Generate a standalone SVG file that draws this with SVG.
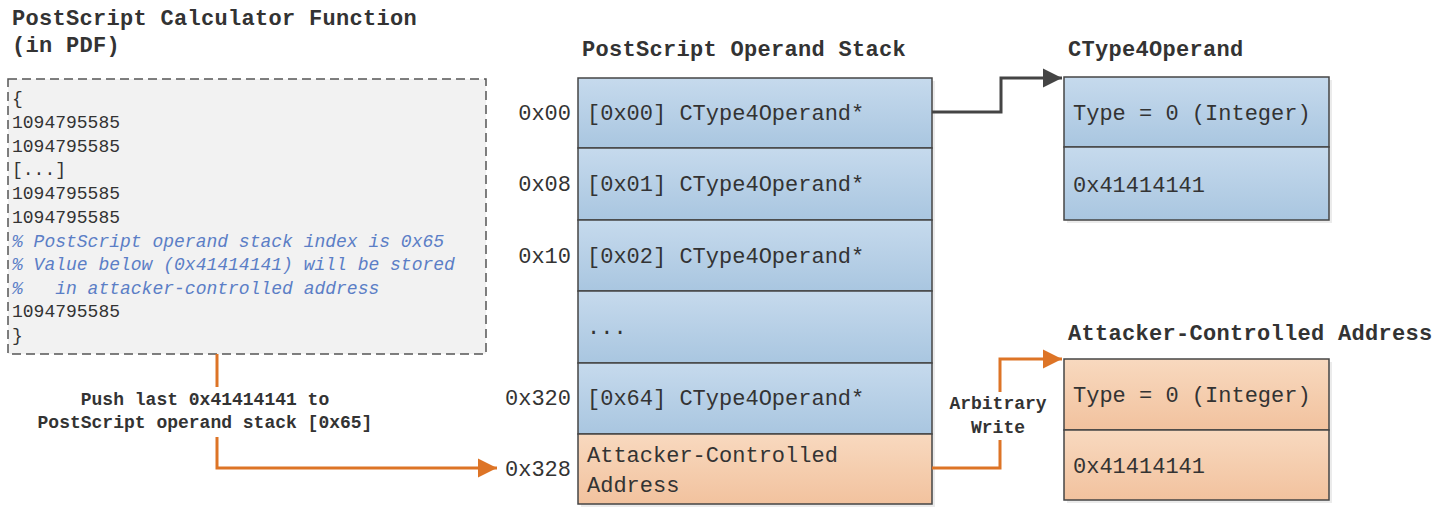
<svg xmlns="http://www.w3.org/2000/svg" width="1442" height="517" viewBox="0 0 1442 517">
<style>
.t{font-family:"Liberation Mono","DejaVu Sans Mono",monospace;fill:#333}
.title{font-size:22px;font-weight:bold;letter-spacing:0.3px}
.cell{font-size:22px}
.code{font-size:18px}
.cm{font-size:18px;font-style:italic;fill:#5b7ec6}
.lbl{font-size:18px;font-weight:bold}
.addr{font-size:22px;text-anchor:end}
.box{stroke:#454545;stroke-width:1.5}
.blue{fill:url(#gb)}
.orange{fill:url(#go)}
.sh{fill:#000;opacity:0.08}
</style>
<defs>
<linearGradient id="gb" x1="0" y1="0" x2="0" y2="1"><stop offset="0" stop-color="#c6daed"/><stop offset="1" stop-color="#a9c6e0"/></linearGradient>
<linearGradient id="go" x1="0" y1="0" x2="0" y2="1"><stop offset="0" stop-color="#f8d9bf"/><stop offset="1" stop-color="#f2c29e"/></linearGradient>
<marker id="ad" viewBox="0 0 10 10" refX="10" refY="5" markerWidth="6.5" markerHeight="6.5" markerUnits="strokeWidth" orient="auto"><path d="M0,0 L10,5 L0,10 z" fill="#444"/></marker>
<marker id="ao" viewBox="0 0 10 10" refX="10" refY="5" markerWidth="6.5" markerHeight="6.5" markerUnits="strokeWidth" orient="auto"><path d="M0,0 L10,5 L0,10 z" fill="#dd7426"/></marker>
</defs>
<rect width="1442" height="517" fill="#fff"/>

<g id="calc-function">
<text class="t title" x="12" y="25">PostScript Calculator Function</text>
<text class="t title" x="12" y="52">(in PDF)</text>
<rect x="8" y="79" width="478" height="275" fill="#f2f2f2" stroke="#555" stroke-width="1.5" stroke-dasharray="9,5"/>
<text class="t code" x="12" y="104">{</text>
<text class="t code" x="12" y="128">1094795585</text>
<text class="t code" x="12" y="152">1094795585</text>
<text class="t code" x="12" y="175">[...]</text>
<text class="t code" x="12" y="199">1094795585</text>
<text class="t code" x="12" y="223">1094795585</text>
<text class="t cm" x="12" y="247">% PostScript operand stack index is 0x65</text>
<text class="t cm" x="12" y="270">% Value below (0x41414141) will be stored</text>
<text class="t cm" x="12" y="294" xml:space="preserve">%   in attacker-controlled address</text>
<text class="t code" x="12" y="317">1094795585</text>
<text class="t code" x="12" y="341">}</text>
</g>

<g id="operand-stack">
<text class="t title" x="582" y="56">PostScript Operand Stack</text>
<rect class="sh" x="581" y="81" width="354" height="426"/>
<rect class="box blue" x="578" y="78" width="354" height="70"/>
<rect class="box blue" x="578" y="148" width="354" height="72"/>
<rect class="box blue" x="578" y="220" width="354" height="71"/>
<rect class="box blue" x="578" y="291" width="354" height="72"/>
<rect class="box blue" x="578" y="363" width="354" height="71"/>
<rect class="box orange" x="578" y="434" width="354" height="70"/>
<text class="t cell" x="587" y="120">[0x00] CType4Operand*</text>
<text class="t cell" x="587" y="191">[0x01] CType4Operand*</text>
<text class="t cell" x="587" y="263">[0x02] CType4Operand*</text>
<text class="t cell" x="587" y="334">...</text>
<text class="t cell" x="587" y="405">[0x64] CType4Operand*</text>
<text class="t cell" x="587" y="462">Attacker-Controlled</text>
<text class="t cell" x="587" y="492">Address</text>
<text class="t addr" x="571" y="120">0x00</text>
<text class="t addr" x="571" y="191">0x08</text>
<text class="t addr" x="571" y="263">0x10</text>
<text class="t addr" x="571" y="405">0x320</text>
<text class="t addr" x="571" y="476">0x328</text>
</g>

<g id="ctype4operand">
<text class="t title" x="1068" y="56">CType4Operand</text>
<rect class="sh" x="1067" y="80" width="265" height="143"/>
<rect class="box blue" x="1064" y="77" width="265" height="70"/>
<rect class="box blue" x="1064" y="147" width="265" height="73"/>
<text class="t cell" x="1073" y="120">Type = 0 (Integer)</text>
<text class="t cell" x="1073" y="192">0x41414141</text>
</g>

<g id="attacker-address">
<text class="t title" x="1068" y="340">Attacker-Controlled Address</text>
<rect class="sh" x="1067" y="362" width="265" height="141"/>
<rect class="box orange" x="1064" y="359" width="265" height="71"/>
<rect class="box orange" x="1064" y="430" width="265" height="70"/>
<text class="t cell" x="1073" y="402">Type = 0 (Integer)</text>
<text class="t cell" x="1073" y="473">0x41414141</text>
</g>

<g id="connectors" fill="none">
<path d="M932,112 H1001 V78 H1062" stroke="#444" stroke-width="3" marker-end="url(#ad)"/>
<path d="M217,354 V387" stroke="#dd7426" stroke-width="3"/>
<path d="M217,437 V468 H497" stroke="#dd7426" stroke-width="3" marker-end="url(#ao)"/>
<path d="M932,468 H1000 V440" stroke="#dd7426" stroke-width="3"/>
<path d="M1000,392 V359 H1062" stroke="#dd7426" stroke-width="3" marker-end="url(#ao)"/>
<text class="t lbl" x="205" y="405" text-anchor="middle">Push last 0x41414141 to</text>
<text class="t lbl" x="205" y="428" text-anchor="middle">PostScript operand stack [0x65]</text>
<text class="t lbl" x="998" y="409" text-anchor="middle">Arbitrary</text>
<text class="t lbl" x="998" y="433" text-anchor="middle">Write</text>
</g>
</svg>
